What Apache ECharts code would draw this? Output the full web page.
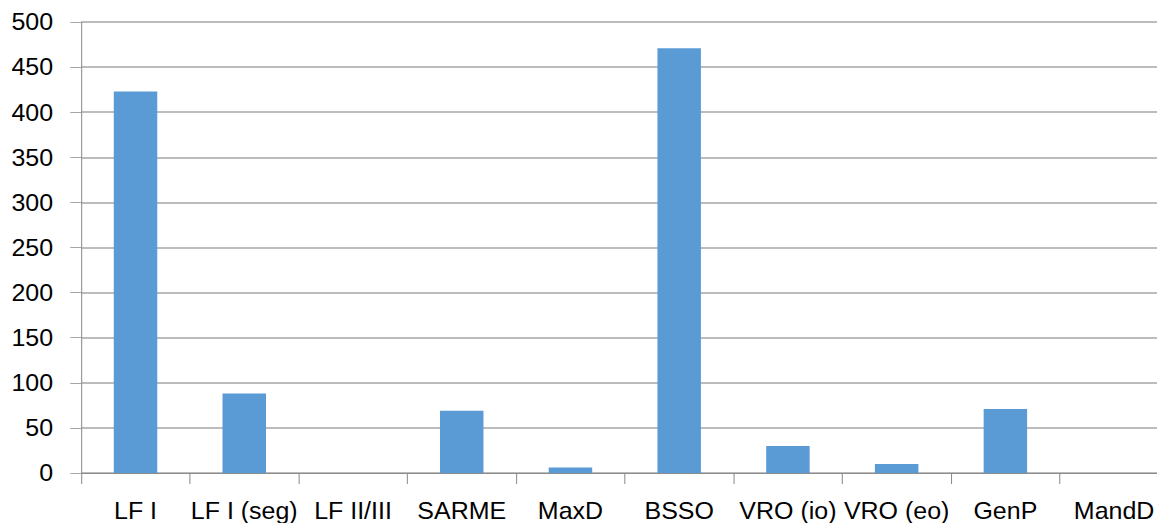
<!DOCTYPE html>
<html>
<head>
<meta charset="utf-8">
<script src="https://cdn.jsdelivr.net/npm/echarts@6/dist/echarts.min.js"></script>
<style>
  html, body { margin: 0; padding: 0; background: #fff; overflow: hidden; }
  #stage { width: 1157px; height: 523px; overflow: hidden; }
  /* the chart is laid out slightly narrower and widened horizontally, giving the broad lettering */
  #chart { width: 1112px; height: 523px; transform: scaleX(1.0405); transform-origin: 0 0; }
</style>
</head>
<body>
<div id="stage"><div id="chart"></div></div>
<script>
const categories = ['LF I', 'LF I (seg)', 'LF II/III', 'SARME', 'MaxD', 'BSSO', 'VRO (io)', 'VRO (eo)', 'GenP', 'MandD'];
const counts = [423, 88, 0, 69, 6, 471, 30, 10, 71, 0];
const yMin = 0;
const yMax = 500;
const yStep = 50;

const FONT = '"Liberation Sans", Arial, Helvetica, sans-serif';
const GRID_GREY = '#a6a6a6';
const AXIS_GREY = '#8c8c8c';

const chart = echarts.init(document.getElementById('chart'), null, { renderer: 'svg' });

chart.setOption({
  animation: false,
  backgroundColor: '#ffffff',
  grid: {
    left: 78,
    top: 22,
    width: 1045,
    height: 451,
    containLabel: false,
    outerBoundsMode: 'none'
  },
  xAxis: {
    type: 'category',
    data: categories,
    boundaryGap: true,
    axisLine: { show: true, lineStyle: { color: AXIS_GREY, width: 1 } },
    axisTick: { show: true, length: 11, alignWithLabel: false, lineStyle: { color: AXIS_GREY } },
    axisLabel: {
      interval: 0,
      hideOverlap: false,
      margin: 26,
      fontSize: 24,
      fontFamily: FONT,
      color: '#000000'
    },
    splitLine: { show: false }
  },
  yAxis: {
    type: 'value',
    min: yMin,
    max: yMax,
    interval: yStep,
    axisLine: { show: true, lineStyle: { color: AXIS_GREY, width: 1 } },
    axisTick: { show: true, length: 10.5, lineStyle: { color: GRID_GREY } },
    axisLabel: {
      margin: 27,
      fontSize: 24,
      fontFamily: FONT,
      color: '#000000'
    },
    splitLine: { show: true, lineStyle: { color: GRID_GREY, width: 1.5 } }
  },
  series: [{
    type: 'bar',
    data: counts,
    barWidth: '40%',
    itemStyle: { color: '#5b9bd5' },
    emphasis: { disabled: true }
  }]
});
</script>
</body>
</html>
